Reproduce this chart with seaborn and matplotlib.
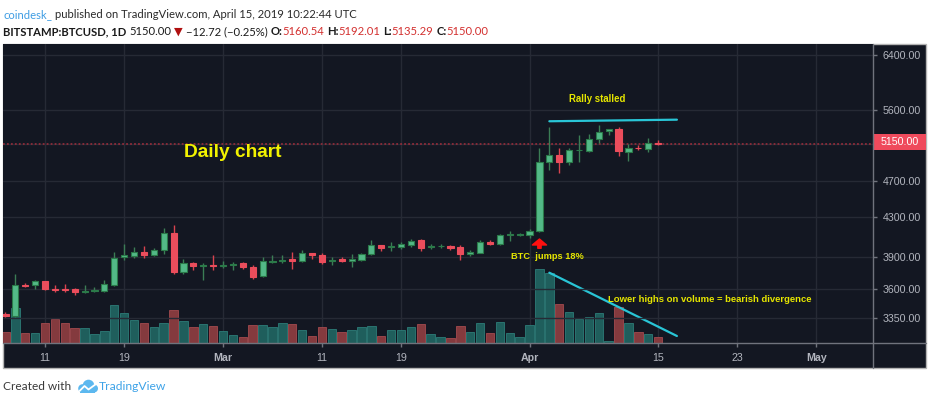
import numpy as np
import pandas as pd
import matplotlib
matplotlib.use("Agg")
import matplotlib.pyplot as plt
import matplotlib.colors as mcolors
import seaborn as sns
from matplotlib.patches import Rectangle, Circle
from matplotlib.lines import Line2D
from matplotlib.transforms import IdentityTransform
from matplotlib.ticker import FixedLocator, NullLocator, FuncFormatter

# daily BTCUSD candles (Bitstamp), Feb 7 -> Apr 15 2019
opens = [3385, 3370, 3640, 3632, 3672, 3602, 3600, 3598, 3578, 3586,
         3587, 3636, 3893, 3905, 3948, 3918, 3960, 4130, 3750, 3843,
         3808, 3820, 3812, 3820, 3834, 3805, 3718, 3852, 3862, 3874,
         3855, 3932, 3915, 3853, 3872, 3860, 3868, 3920, 4010, 3995,
         3990, 4015, 4058, 3993, 3998, 4002, 3990, 3928, 3935, 4045,
         4022, 4108, 4110, 4112, 4150, 4920, 5005, 4925, 5065, 5060,
         5210, 5318, 5340, 5045, 5100, 5085, 5160.54]
highs = [3400, 3735, 3650, 3681, 3675, 3632, 3645, 3612, 3635, 3620,
         3681, 3940, 4020, 3990, 4005, 3980, 4182, 4215, 3875, 3852,
         3838, 3915, 3862, 3850, 3848, 3815, 3895, 3915, 3915, 3940,
         3964, 3938, 3938, 3900, 3892, 3925, 3938, 4058, 4015, 4040,
         4040, 4072, 4072, 4020, 4022, 4008, 4008, 3960, 4058, 4058,
         4122, 4152, 4130, 4170, 5100, 5365, 5100, 5090, 5260, 5275,
         5385, 5340, 5360, 5140, 5130, 5215, 5192.01]
lows = [3360, 3362, 3615, 3598, 3590, 3570, 3570, 3548, 3563, 3578,
        3570, 3630, 3863, 3890, 3890, 3908, 3927, 3740, 3740, 3773,
        3681, 3773, 3790, 3773, 3780, 3688, 3712, 3835, 3835, 3780,
        3845, 3880, 3830, 3820, 3845, 3800, 3862, 3910, 3950, 3950,
        3975, 3997, 3950, 3975, 3978, 3965, 3867, 3908, 3930, 4010,
        4015, 4055, 4100, 4080, 4145, 4826, 4790, 4890, 4925, 5040,
        5160, 5260, 4990, 4935, 5070, 5040, 5135.29]
closes = [3370, 3632, 3628, 3672, 3598, 3592, 3588, 3572, 3585, 3592,
          3642, 3890, 3910, 3948, 3918, 3960, 4130, 3750, 3838, 3810,
          3815, 3812, 3822, 3832, 3797, 3712, 3853, 3862, 3868, 3855,
          3932, 3915, 3852, 3868, 3862, 3875, 3922, 4010, 3985, 4002,
          4022, 4055, 3983, 4000, 4005, 3985, 3925, 3942, 4045, 4020,
          4112, 4118, 4120, 4152, 4925, 5005, 4920, 5070, 5075, 5210,
          5300, 5335, 5060, 5100, 5090, 5163, 5150.00]
volumes = [2580, 8580, 2330, 2330, 4830, 6000, 4830, 3580, 3580, 2180,
           2830, 9330, 7430, 5750, 4830, 3830, 4830, 8180, 5330, 3830,
           4580, 4180, 2930, 1930, 1500, 4330, 4330, 3830, 4830, 4580,
           3180, 1680, 3830, 3330, 2580, 3080, 3830, 4080, 1680, 3080,
           3080, 3830, 4580, 2080, 1430, 1180, 4080, 2580, 4830, 2330,
           5080, 2330, 1430, 4330, 18330, 17500, 9580, 7680, 6000, 6500,
           7430, 430, 8830, 4830, 2580, 2080, 1430]

# x axis labels sit on bar positions (TradingView axis is bar-indexed)
tick_pos = [4, 12, 22, 32, 40, 53, 66, 74, 82]
tick_labels = ["11", "19", "Mar", "11", "19", "Apr", "15", "23", "May"]
price_ticks = [3350, 3600, 3900, 4300, 4700, 5150, 5600, 6400]
last_price = 5150.00

df = pd.DataFrame({"bar": np.arange(len(opens)), "open": opens, "high": highs,
                   "low": lows, "close": closes, "volume": volumes})
df["dir"] = np.where(df["close"] >= df["open"], "up", "down")

bg = "#131722"
grid_c = "#262a35"
sep_c = "#70737d"
lab_c = "#b2b5be"
yellow = "#f2f200"

sns.set_style("dark", {"axes.facecolor": bg})
plt.rcParams["font.family"] = ["Liberation Sans", "DejaVu Sans"]

W, H = 936, 401
fig = plt.figure(figsize=(W / 100, H / 100), dpi=100)
fig.patch.set_facecolor("white")


def fx(px):
    return px / W


def fy(py):
    return 1 - py / H


# dark chart panel with light border
fig.add_artist(Rectangle((fx(2.7), fy(368.3)), fx(926) - fx(2.7), fy(44.3) - fy(368.3),
                         transform=fig.transFigure, facecolor=bg, edgecolor="#b4b4b4",
                         lw=1, zorder=-1))

ax_vol = fig.add_axes([fx(2.7), fy(342.7), fx(872.7) - fx(2.7), fy(44.3) - fy(342.7)])
ax_vol.set_facecolor(bg)
ax = ax_vol.twinx()

# volume bars
vol_up, vol_dn = "#1f5e5c", "#843a3e"
sns.barplot(data=df, x="bar", y="volume", hue="dir",
            palette={"up": vol_up, "down": vol_dn}, native_scale=True,
            dodge=False, width=0.86, errorbar=None, legend=False,
            saturation=1, ax=ax_vol)
for p in ax_vol.patches:
    if np.allclose(p.get_facecolor()[:3], mcolors.to_rgb(vol_up)):
        p.set_edgecolor("#2d7c78")
    else:
        p.set_edgecolor("#a34a4e")
    p.set_linewidth(0.6)

ax_vol.set_ylim(0, 74600)
ax_vol.set_yticks([])
ax_vol.set_xlim(-0.28, 87.7)
ax_vol.set_xlabel("")
ax_vol.set_ylabel("")
ax_vol.set_xticks(tick_pos)
ax_vol.set_xticklabels(tick_labels)
ax_vol.tick_params(axis="x", bottom=True, length=3, width=1, color=sep_c,
                   labelcolor=lab_c, labelsize=7.7, pad=4.5)
for t in ax_vol.get_xticklabels():
    if t.get_text() in ("Mar", "Apr", "May"):
        t.set_fontweight("bold")
ax_vol.grid(axis="x", color=grid_c, lw=1)
ax_vol.set_axisbelow(True)

# candles
up = df["dir"] == "up"
ax.vlines(df["bar"], df["low"], df["high"],
          colors=np.where(up, "#3b7d55", "#d9434f"), lw=1, zorder=3)
body_lo = np.minimum(df["open"], df["close"])
body_h = np.abs(df["close"] - df["open"])
ax.bar(df["bar"], body_h, bottom=body_lo, width=0.62,
       color=np.where(up, "#53b987", "#eb4d5c"),
       edgecolor=np.where(up, "#2b7a49", "#eb4d5c"), lw=0.8, zorder=4)

ax.set_yscale("log")
ax.set_ylim(3154.6, 6575.6)
ax.yaxis.set_major_locator(FixedLocator(price_ticks))
ax.yaxis.set_minor_locator(NullLocator())
# the 5150 tick label sits under the last-price box, so leave it blank
ax.yaxis.set_major_formatter(FuncFormatter(lambda v, _: "" if abs(v - last_price) < 1 else f"{v:.2f}"))
ax.tick_params(axis="y", right=True, length=3, width=1, color=sep_c,
               labelcolor=lab_c, labelsize=7.7, pad=4.3)
ax.grid(axis="y", color=grid_c, lw=1)
ax.set_xlim(-0.28, 87.7)

for a in (ax, ax_vol):
    for s in a.spines.values():
        s.set_visible(False)

# axis separators
fig.add_artist(Line2D([fx(2.7), fx(926)], [fy(342.7), fy(342.7)],
                      transform=fig.transFigure, color=sep_c, lw=1, zorder=5))
fig.add_artist(Line2D([fx(872.7), fx(872.7)], [fy(44.3), fy(368.3)],
                      transform=fig.transFigure, color=sep_c, lw=1, zorder=5))

# last price line + label
ax.axhline(last_price, color="#8e2c3a", ls=(0, (1, 1.2)), lw=1.3, zorder=2)
ytr = ax.get_yaxis_transform()
ax.add_patch(Rectangle((1.0, 5070), 0.0613, 5269 - 5070, transform=ytr,
                       facecolor="#ef4a5c", edgecolor="none", clip_on=False, zorder=6))
ax.text(1.0307, 5165, f"{last_price:.2f}", transform=ytr, ha="center", va="center",
        color="white", fontsize=7.7, clip_on=False, zorder=7)

# annotations
ax.text(22.95, 4986, "Daily chart", color=yellow, fontsize=13.8, fontweight="bold",
        ha="center", va="baseline", zorder=8)
ax.text(59.8, 5743, "Rally stalled", color="#e6e600", fontsize=6.9, fontweight="bold",
        ha="center", va="center", zorder=8)
ax.plot([55.0, 67.9], [5441, 5462], color="#29c5d6", lw=1.6, zorder=8)
ax.text(54.84, 3877, "BTC  jumps 18%", color="#e6e600", fontsize=6.7, fontweight="bold",
        ha="center", va="baseline", zorder=8)
ax.annotate("", xy=(54, 4072), xytext=(54, 3980),
            arrowprops=dict(arrowstyle="simple,head_length=0.36,head_width=0.85,tail_width=0.2",
                            color="#ff1010", mutation_scale=12, shrinkA=0, shrinkB=0),
            zorder=8)
ax.text(60.92, 3487, "Lower highs on volume = bearish divergence", color="#e6e600",
        fontsize=6.8, fontweight="bold", ha="left", va="baseline", zorder=8)
ax_vol.plot([55.0, 67.9], [17500, 1675], color="#29c5d6", lw=1.6, zorder=8)

# header and footer (pixel coordinates)
hdr_font = ["Lato", "DejaVu Sans"]
renderer = fig.canvas.get_renderer()


def put_segments(segments, x, y, size):
    arts = []
    probe = fig.text(0, 0, "a a", transform=IdentityTransform(), fontsize=size, family=hdr_font)
    probe2 = fig.text(0, 0, "aa", transform=IdentityTransform(), fontsize=size, family=hdr_font)
    space = probe.get_window_extent(renderer).width - probe2.get_window_extent(renderer).width
    probe.remove()
    probe2.remove()
    for txt, color, weight in segments:
        if txt == " ":
            x += space
            continue
        t = fig.text(x, y, txt, transform=IdentityTransform(), fontsize=size,
                     family=hdr_font, color=color, fontweight=weight, va="baseline", ha="left")
        arts.append(t)
        x = t.get_window_extent(renderer).x1
    return x, arts


def fitted(segments, x0, y, x1, size):
    end, arts = put_segments(segments, x0, y, size)
    for a in arts:
        a.remove()
    size = size * (x1 - x0) / (end - x0)
    return put_segments(segments, x0, y, size)


dark = "#1a1a1a"
red = "#d3302f"
line1 = [("coindesk_", "#3f9de3", "normal"), (" ", None, None),
         ("published on TradingView.com, April 15, 2019 10:22:44 UTC", "#2a2a2a", "normal")]
line2 = [("BITSTAMP:BTCUSD, 1D", dark, "bold"), (" ", None, None),
         ("5150.00", dark, "normal"), (" ", None, None), ("\u25bc", "#b01010", "normal"),
         (" ", None, None), ("\u221212.72 (\u22120.25%)", dark, "normal"), (" ", None, None),
         ("O:", dark, "bold"), ("5160.54", red, "normal"), (" ", None, None),
         ("H:", dark, "bold"), ("5192.01", red, "normal"), (" ", None, None),
         ("L:", dark, "bold"), ("5135.29", red, "normal"), (" ", None, None),
         ("C:", dark, "bold"), ("5150.00", red, "normal")]
fitted(line1, 3.3, H - 18.3, 358, 9.5)
fitted(line2, 3.3, H - 35, 491.7, 9.5)

fitted([("Created with", "#3a3a3a", "normal")], 3.3, H - 390.5, 71.7, 9.5)
fitted([("TradingView", "#3ea3e8", "normal")], 99, H - 390.5, 166.7, 9.5)

# small cloud logo
logo_c = "#5cb8ef"
for cx, cy, r in [(82.5, 12.5, 4.3), (88.5, 15.5, 5.8), (94, 12.5, 4.0)]:
    fig.add_artist(Circle((cx, cy), r, transform=IdentityTransform(), color=logo_c, lw=0))
fig.add_artist(Rectangle((80, 8.3), 15, 5, transform=IdentityTransform(), color=logo_c, lw=0))
fig.add_artist(Line2D([79.5, 84.5, 88.5, 96], [10, 15, 11.5, 17], transform=IdentityTransform(),
                      color="white", lw=1.3))

fig.savefig("out.png", dpi=100, facecolor="white")
